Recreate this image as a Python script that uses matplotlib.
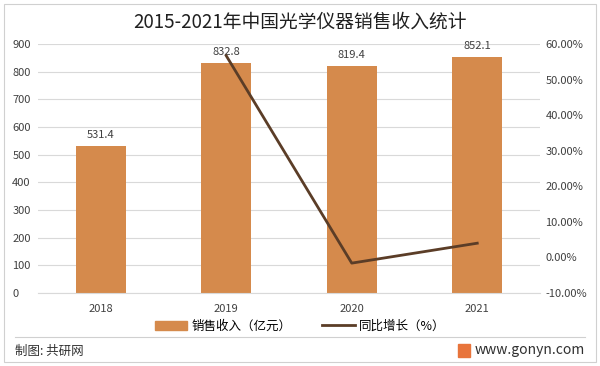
import matplotlib
matplotlib.use("Agg")
import matplotlib.pyplot as plt
from matplotlib.lines import Line2D
from matplotlib.patches import Patch, Rectangle

plt.rcParams['font.family'] = ['Noto Sans CJK SC', 'DejaVu Sans']

years = ["2018", "2019", "2020", "2021"]
revenue = [531.4, 832.8, 819.4, 852.1]
growth = [None, 56.7, -1.6, 4.0]
left_ticks = [0, 100, 200, 300, 400, 500, 600, 700, 800, 900]
right_ticks = [-10, 0, 10, 20, 30, 40, 50, 60]

bar_color = "#d58a4c"
line_color = "#5b3d27"

fig = plt.figure(figsize=(6, 3.66), dpi=100)
ax = fig.add_axes([38/600, 1-293/366, (540-38)/600, (293-44)/366])
x = list(range(len(years)))
ax.bar(x, revenue, width=0.4, color=bar_color, zorder=2)
ax.set_ylim(0, 900)
ax.set_xlim(-0.5, 3.5)
ax.set_yticks(left_ticks)
ax.tick_params(axis='y', length=0, labelsize=8, colors="#404040", pad=18.5)
for lbl in ax.get_yticklabels():
    lbl.set_horizontalalignment('left')
ax.tick_params(axis='x', length=0, labelsize=8, colors="#404040", pad=8)
ax.set_xticks(x)
ax.set_xticklabels(years)
ax.yaxis.grid(True, color="#d9d9d9", linewidth=0.8, zorder=0)
ax.set_axisbelow(True)
for s in ["top", "right", "left"]:
    ax.spines[s].set_visible(False)
ax.spines["bottom"].set_color("#d9d9d9")
for xi, v in zip(x, revenue):
    ax.text(xi, v + 22, f"{v:.1f}", ha="center", va="bottom", fontsize=8, color="#404040")

ax2 = ax.twinx()
gx = [xi for xi, g in zip(x, growth) if g is not None]
gy = [g for g in growth if g is not None]
ax2.plot(gx, gy, color=line_color, linewidth=2, zorder=3)
ax2.set_ylim(-10, 60)
ax2.set_yticks(right_ticks)
ax2.set_yticklabels([f"{t:.2f}%" for t in right_ticks])
ax2.tick_params(axis='y', length=0, labelsize=8, colors="#404040", pad=4)
for s in ["top", "right", "left", "bottom"]:
    ax2.spines[s].set_visible(False)

fig.text(0.5, 1-22/366, "2015-2021年中国光学仪器销售收入统计", ha="center", va="center",
         fontsize=13.5, color="#202020")

handles = [Patch(color=bar_color), Line2D([0], [0], color=line_color, linewidth=2)]
fig.legend(handles, ["销售收入（亿元）", "同比增长（%）"], loc="center",
           bbox_to_anchor=(0.5, 1-326/366), ncol=2, frameon=False, fontsize=9,
           handlelength=2.6, handleheight=0.7, columnspacing=2.5, handletextpad=0.3)

fig.add_artist(Line2D([15/600, 585/600], [1-337/366, 1-337/366], color="#d0d0d0", linewidth=0.8))
fig.add_artist(Rectangle((4/600, 4/366), 592/600, 358/366, fill=False, edgecolor="#d0d0d0", linewidth=0.8))
fig.text(15/600, 1-351/366, "制图: 共研网", ha="left", va="center", fontsize=9, color="#303030")
fig.text(585/600, 1-350/366, "www.gonyn.com", ha="right", va="center", fontsize=10, color="#303030")
fig.add_artist(Rectangle((458/600, 1-357/366), 12/600, 13/366, color="#e8743b"))

fig.savefig("out.png", dpi=100)
